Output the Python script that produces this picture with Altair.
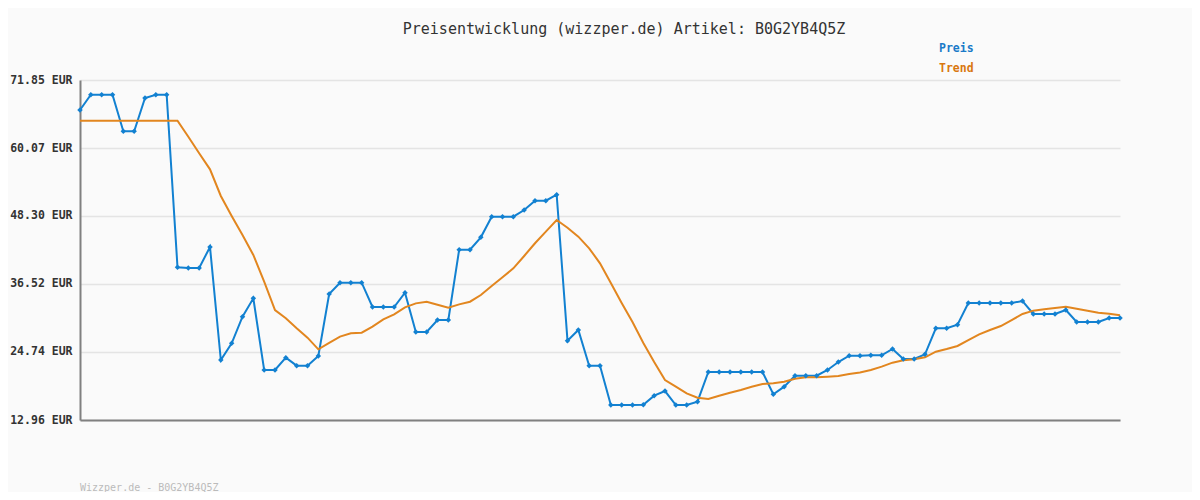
import altair as alt
import pandas as pd

# ---- data ----
preis = [66.65, 69.30, 69.30, 69.30, 62.96, 62.96, 68.73, 69.30, 69.30, 39.41,
         39.29, 39.29, 42.93, 23.35, 26.24, 30.85, 34.03, 21.62, 21.62, 23.76,
         22.37, 22.37, 24.04, 34.78, 36.74, 36.74, 36.74, 32.53, 32.53, 32.53,
         35.01, 28.20, 28.20, 30.28, 30.28, 42.46, 42.46, 44.60, 48.17, 48.17,
         48.17, 49.33, 50.95, 50.95, 51.99, 26.70, 28.55, 22.37, 22.37, 15.56,
         15.56, 15.56, 15.60, 17.17, 17.98, 15.56, 15.56, 16.13, 21.27, 21.27,
         21.27, 21.27, 21.27, 21.27, 17.41, 18.73, 20.63, 20.63, 20.63, 21.62,
         23.00, 24.10, 24.10, 24.16, 24.16, 25.26, 23.52, 23.52, 24.34, 28.84,
         28.84, 29.47, 33.23, 33.23, 33.23, 33.23, 33.23, 33.57, 31.32, 31.32,
         31.32, 32.01, 29.93, 29.93, 29.93, 30.63, 30.63]

trend = [64.81, 64.81, 64.81, 64.81, 64.81, 64.81, 64.81, 64.81, 64.81, 64.81,
         62.03, 59.15, 56.38, 51.76, 48.30, 45.00, 41.54, 36.92, 32.01, 30.57,
         28.84, 27.22, 25.20, 26.30, 27.40, 27.97, 28.09, 29.12, 30.40, 31.27,
         32.47, 33.16, 33.45, 32.93, 32.41, 32.99, 33.45, 34.61, 36.17, 37.67,
         39.23, 41.37, 43.57, 45.58, 47.60, 46.27, 44.71, 42.70, 40.10, 36.69,
         33.23, 29.94, 26.30, 23.00, 19.89, 18.73, 17.58, 16.82, 16.60, 17.17,
         17.69, 18.16, 18.73, 19.20, 19.32, 19.60, 20.11, 20.35, 20.35, 20.47,
         20.58, 20.93, 21.19, 21.62, 22.20, 22.89, 23.30, 23.47, 23.82, 24.79,
         25.26, 25.78, 26.81, 27.80, 28.55, 29.24, 30.28, 31.32, 31.90, 32.13,
         32.36, 32.59, 32.24, 31.90, 31.55, 31.38, 31.09]

y_ticks = [12.96, 24.74, 36.52, 48.30, 60.07, 71.85]

title_text = "Preisentwicklung (wizzper.de) Artikel: B0G2YB4Q5Z"
legend_labels = ["Preis", "Trend"]
footer_text = "Wizzper.de - B0G2YB4Q5Z"

BLUE = "#1281d1"
ORANGE = "#e2861f"
FONT = "DejaVu Sans Mono"

df = pd.DataFrame({"i": list(range(len(preis))), "preis": preis, "trend": trend})

xs = alt.X("i:Q", scale=alt.Scale(domain=[0, len(preis) - 1], nice=False, zero=False),
           axis=alt.Axis(title=None, labels=False, ticks=False, grid=False,
                         domainColor="#808080", domainWidth=2))
ysc = alt.Scale(domain=[y_ticks[0], y_ticks[-1]], nice=False, zero=False)
yaxis = alt.Axis(title=None, values=y_ticks,
                 labelExpr="format(datum.value, '.2f') + ' EUR'",
                 labelFont=FONT, labelFontWeight="bold", labelFontSize=11.5,
                 labelColor="#333333", labelPadding=8, ticks=False,
                 grid=True, gridColor="#e4e4e4", gridWidth=1.5,
                 domainColor="#808080", domainWidth=2)

base = alt.Chart(df)

preis_line = base.mark_line(color=BLUE, strokeWidth=2).encode(
    x=xs, y=alt.Y("preis:Q", scale=ysc, axis=yaxis))
preis_pts = base.mark_point(color=BLUE, filled=True, shape="diamond", size=30, opacity=1).encode(
    x="i:Q", y=alt.Y("preis:Q", scale=ysc))
trend_line = base.mark_line(color=ORANGE, strokeWidth=2).encode(
    x="i:Q", y=alt.Y("trend:Q", scale=ysc))

one = alt.Data(values=[{}])

title = alt.Chart(one).mark_text(font=FONT, fontSize=15, color="#333333",
                                 align="center", baseline="middle").encode(
    x=alt.value(544), y=alt.value(-51), text=alt.value(title_text))

leg1 = alt.Chart(one).mark_text(font=FONT, fontSize=11.5, fontWeight="bold", color="#1a7ac8",
                                align="left", baseline="middle").encode(
    x=alt.value(859), y=alt.value(-31), text=alt.value(legend_labels[0]))
leg2 = alt.Chart(one).mark_text(font=FONT, fontSize=11.5, fontWeight="bold", color="#d9770f",
                                align="left", baseline="middle").encode(
    x=alt.value(859), y=alt.value(-11), text=alt.value(legend_labels[1]))

footer = alt.Chart(one).mark_text(font=FONT, fontSize=10, color="#bbbbbb",
                                  align="left", baseline="middle").encode(
    x=alt.value(0), y=alt.value(408), text=alt.value(footer_text))

chart = alt.layer(preis_line, trend_line, preis_pts, title, leg1, leg2, footer).properties(
    width=1040, height=340,
    autosize=alt.AutoSizeParams(type="none"),
    padding={"left": 72, "top": 72, "right": 72, "bottom": 72},
    background="#fafafa",
).configure_view(strokeWidth=0)

chart.save("out.html", embed_options={"renderer": "svg", "actions": False})
